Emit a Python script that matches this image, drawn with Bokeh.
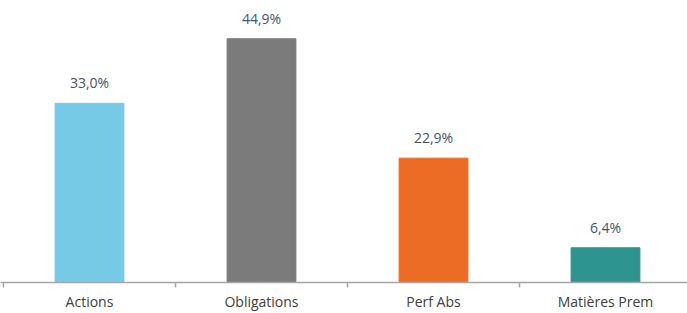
from bokeh.plotting import figure
from bokeh.models import ColumnDataSource, FixedTicker, LabelSet, Range1d
from bokeh.core.properties import value
from bokeh.embed import file_html
from bokeh.resources import INLINE

categories = ["Actions", "Obligations", "Perf Abs", "Matières Prem"]
values = [33.0, 44.9, 22.9, 6.4]
labels = ["33,0%", "44,9%", "22,9%", "6,4%"]
colors = ["#76CAE6", "#7B7B7B", "#EC6C25", "#2E9490"]

xpos = [i + 0.5 for i in range(len(categories))]
src = ColumnDataSource(dict(x=xpos, top=values, lab=labels, color=colors))

x0 = -3 / 172
frame_h = 281
p = figure(width=687, height=313, output_backend="svg", toolbar_location=None,
           x_range=Range1d(x0, x0 + 687 / 172), y_range=Range1d(0, frame_h / 5.41),
           y_axis_location=None, min_border_left=0, min_border_right=0,
           min_border_top=0, min_border_bottom=20)
p.outline_line_color = None
p.xgrid.visible = False
p.ygrid.visible = False
p.background_fill_color = "white"
p.border_fill_color = "white"

p.vbar(x="x", top="top", width=0.40, bottom=0, color="color", source=src)

p.add_layout(LabelSet(x="x", y="top", text="lab", source=src, text_align="center",
                      text_baseline="alphabetic", y_offset=15,
                      text_font=value("Open Sans"),
                      text_font_size="14px", text_color="#44546A"))

ax = p.xaxis[0]
ax.ticker = FixedTicker(ticks=xpos, minor_ticks=[0, 1, 2, 3])
ax.major_label_overrides = {x: c for x, c in zip(xpos, categories)}
ax.axis_line_color = "#A6A6A6"
ax.axis_line_width = 1.5
ax.major_tick_line_color = None
ax.major_tick_out = 0
ax.major_tick_in = 0
ax.minor_tick_line_color = "#A6A6A6"
ax.minor_tick_line_width = 1.5
ax.minor_tick_out = 5
ax.minor_tick_in = 0
ax.major_label_standoff = 4
ax.major_label_text_font = "Open Sans"
ax.major_label_text_font_size = "14px"
ax.major_label_text_color = "#404040"

open("out.html", "w").write(file_html(p, INLINE))
